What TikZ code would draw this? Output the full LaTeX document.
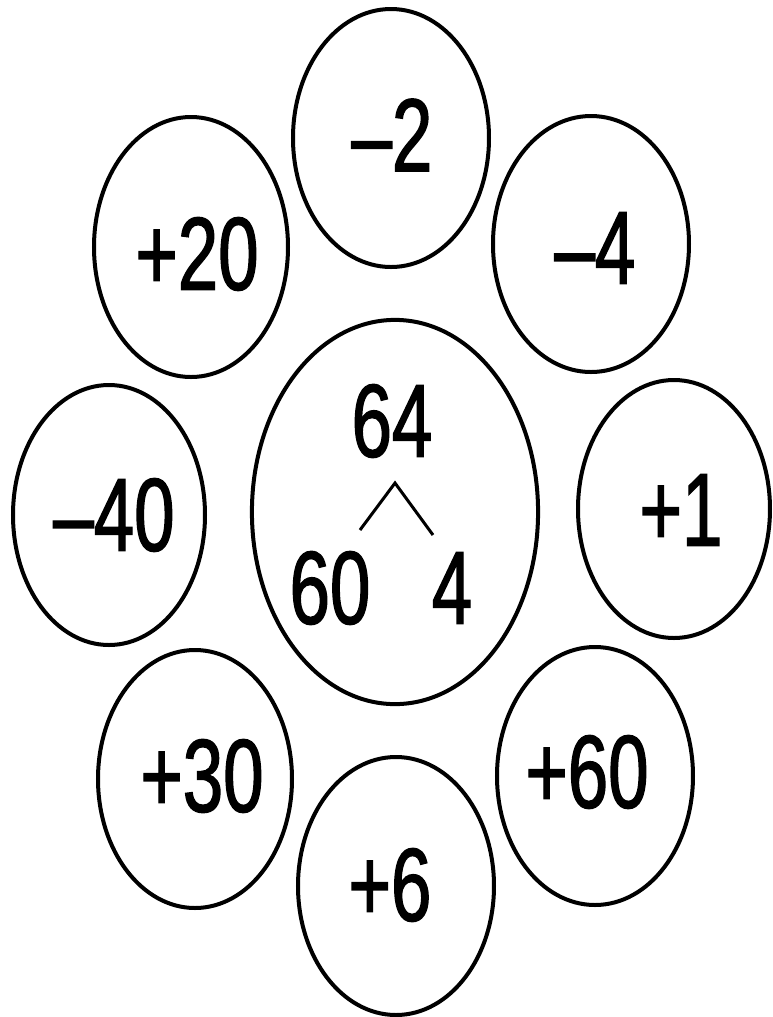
\documentclass[tikz,border=0pt]{standalone}
\usepackage{fontspec}
\setmainfont{Liberation Sans}[FakeStretch=0.7, FakeBold=1.3]
\usetikzlibrary{shapes.geometric}

\tikzset{
    ring/.style = {draw, ellipse, line width=0.4mm, inner sep=0pt},
    num/.style  = {inner sep=0pt, font=\fontsize{29.5}{30}\selectfont}
}

\begin{document}
\begin{tikzpicture}[x=0.01cm, y=-0.01cm]
    \useasboundingbox (0,0) rectangle (773,1017);
    % outer circles: name / centre / radii / text position / text
    \foreach \nm/\cx/\cy/\rx/\ry/\tx/\ty/\txt in {
        mtwo/391/138/98/129/392/135/{–2},
        ptwenty/191/247/97/130/197/254/{+20},
        mfour/591/244/98/128/595/248/{–4},
        mforty/109/515/96/130/114/515/{–40},
        pone/674/509/96/129/681/510/{+1},
        pthirty/195/779/97/129/202/776/{+30},
        psixty/595/776/98/129/587/772/{+60},
        psix/396/886/98/129/390/885/{+6}} {
        \node[ring, minimum width=2*\rx*0.01cm, minimum height=2*\ry*0.01cm] (\nm) at (\cx,\cy) {};
        \node[num] (t\nm) at (\tx,\ty) {\txt};
    }
    % centre circle with the split of 64
    \node[ring, minimum width=2.86cm, minimum height=3.84cm] (big) at (395,512) {};
    \node[num] (top) at (392,421) {64};
    \node[num] (left) at (330,588) {60};
    \node[num] (right) at (452,588) {4};
    \coordinate (apex) at (395,483);
    \coordinate (leftend) at (360,530);
    \coordinate (rightend) at (433,535);
    \draw[line width=0.3mm] (leftend) -- (apex) -- (rightend);
\end{tikzpicture}
\end{document}
